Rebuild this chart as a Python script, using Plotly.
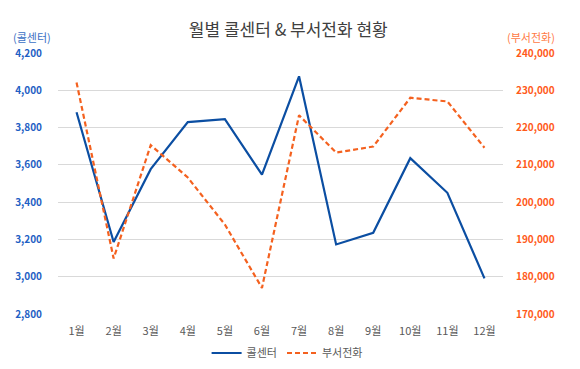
import plotly.graph_objects as go

months = ["1월", "2월", "3월", "4월", "5월", "6월", "7월", "8월", "9월", "10월", "11월", "12월"]
call_center = [3882, 3186, 3577, 3829, 3845, 3548, 4075, 3173, 3236, 3636, 3450, 2991]
dept_phone = [232100, 184900, 215300, 206600, 194000, 177000, 223300, 213300, 214900, 228000, 227000, 214600]

left_ticks = [2800, 3000, 3200, 3400, 3600, 3800, 4000, 4200]
right_ticks = [170000, 180000, 190000, 200000, 210000, 220000, 230000, 240000]

BLUE = "#0b4ea2"
ORANGE = "#f4611f"
BLUE_TXT = "#1f5fc4"
ORANGE_TXT = "#ff5a1a"
FONT = "Noto Sans CJK KR"

fig = go.Figure()
fig.add_trace(go.Scatter(x=months, y=call_center, name="콜센터", mode="lines",
                         line=dict(color=BLUE, width=2.2), yaxis="y"))
fig.add_trace(go.Scatter(x=months, y=dept_phone, name="부서전화", mode="lines",
                         line=dict(color=ORANGE, width=2.2, dash="5px,3px"), yaxis="y2"))

fig.update_layout(
    width=580, height=369,
    margin=dict(l=58, r=77, t=53, b=55, autoexpand=False),
    paper_bgcolor="white", plot_bgcolor="white",
    font=dict(family=FONT, size=11, color="#595959"),
    title=dict(text="월별 콜센터 & 부서전화 현황", x=0.497, xanchor="center",
               y=339 / 369, yanchor="middle", yref="container",
               font=dict(family=FONT, size=17, color="#404040")),
    showlegend=True,
    legend=dict(orientation="h", xref="container", x=0.495, xanchor="center",
                yref="container", y=16 / 369, yanchor="middle",
                font=dict(family=FONT, size=11, color="#595959"),
                itemwidth=30, tracegroupgap=0),
    xaxis=dict(type="category", categoryorder="array", categoryarray=months,
               range=[-0.5, 11.5],
               showgrid=False, showline=False, zeroline=False, ticks="",
               tickfont=dict(family=FONT, size=11, color="#595959"),
               ticklabelstandoff=9),
    yaxis=dict(range=[2800, 4200], tickvals=left_ticks, tickformat=",",
               showgrid=True, gridcolor="#d9d9d9", gridwidth=1, zeroline=False, showline=False,
               tickfont=dict(family=FONT, size=10, color=BLUE_TXT, weight="bold"),
               ticklabelstandoff=15),
    yaxis2=dict(range=[170000, 240000], tickvals=right_ticks, tickformat=",",
                overlaying="y", side="right", showgrid=False, zeroline=False, showline=False,
                tickfont=dict(family=FONT, size=10, color=ORANGE_TXT, weight="bold"),
                ticklabelstandoff=12),
)

fig.add_annotation(text="(콜센터)", xref="paper", yref="paper",
                   x=(32 - 58) / 445, y=(314 - 37) / 261,
                   xanchor="center", yanchor="middle", showarrow=False,
                   font=dict(family=FONT, size=11, color="#3a6fc4"))
fig.add_annotation(text="(부서전화)", xref="paper", yref="paper",
                   x=(531 - 58) / 445, y=(314 - 37) / 261,
                   xanchor="center", yanchor="middle", showarrow=False,
                   font=dict(family=FONT, size=11, color="#ff7a45"))

fig.write_html("out.html", config={"displayModeBar": False},
               post_script="document.body.style.margin='0';document.body.style.overflow='hidden';")
